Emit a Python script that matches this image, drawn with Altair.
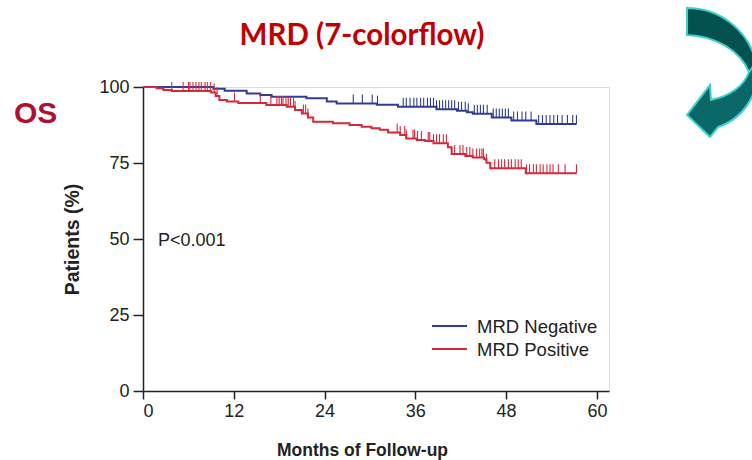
import altair as alt
import pandas as pd

# Kaplan-Meier overall survival by MRD status (7-colour flow)
groups = ["MRD Negative", "MRD Positive"]
colors = ["#2E3F93", "#D6283B"]

neg_times = [0, 9.3, 10.8, 13.7, 15.5, 17.0, 21.6, 24.3, 25.6, 30.9, 33.7, 38.8,
             41.5, 42.8, 43.6, 46.1, 48.7, 52.0, 57.3]
neg_surv = [100, 99.4, 98.8, 97.9, 97.4, 96.8, 96.3, 95.2, 94.6, 94.2, 93.5, 92.7,
            92.2, 91.7, 91.2, 90.0, 89.0, 87.8, 87.8]

pos_times = [0, 1.8, 2.7, 3.8, 9.0, 9.6, 10.1, 11.1, 12.6, 16.3, 19.0, 20.1, 21.0,
             21.8, 22.5, 25.1, 27.3, 28.9, 30.2, 31.3, 32.4, 34.0, 34.8, 36.2, 37.3,
             38.4, 40.3, 40.8, 42.6, 43.6, 45.1, 45.4, 45.9, 50.6, 57.3]
pos_surv = [100, 99.6, 99.0, 98.7, 98.2, 97.0, 95.7, 95.2, 94.7, 94.1, 93.5, 92.4, 91.3,
            90.0, 88.6, 88.1, 87.5, 86.9, 86.4, 85.9, 85.0, 84.2, 83.1, 82.6, 82.2,
            81.5, 80.2, 78.0, 77.3, 76.8, 76.2, 75.1, 73.3, 71.6, 71.6]

neg_censor = [27.8, 29.0, 30.3, 31.0, 34.4, 34.8, 35.3, 35.8, 36.2, 36.7, 37.1, 37.6,
              38.0, 38.4, 38.8, 39.2, 39.6, 40.0, 40.4, 40.8, 41.2, 41.7, 42.1, 42.6,
              43.0, 43.8, 44.2, 44.6, 45.0, 45.5, 46.3, 46.7, 47.1, 47.5, 47.9, 48.3,
              49.0, 49.5, 50.1, 50.6, 51.3, 52.3, 52.8, 53.3, 53.8, 54.3, 54.8, 55.4,
              56.1, 56.8, 57.3]
pos_censor = [3.8, 5.3, 6.0, 6.2, 6.6, 7.0, 7.4, 7.7, 8.2, 8.5, 8.9, 9.4, 9.8, 12.1,
              15.5, 16.9, 17.7, 18.0, 18.3, 18.5, 18.9, 19.2, 19.5, 19.9, 20.1, 21.2,
              21.5, 21.8, 33.6, 34.0, 34.6, 34.8, 35.7, 35.9, 36.3, 36.8, 37.7, 37.9,
              38.4, 38.8, 39.2, 39.7, 40.1, 41.2, 41.9, 42.3, 42.8, 43.2, 43.6, 44.1,
              44.5, 44.8, 45.0, 45.4, 46.5, 47.0, 47.4, 47.8, 48.3, 48.7, 49.2, 49.6,
              50.0, 50.7, 51.1, 51.6, 52.0, 52.5, 52.9, 53.4, 53.8, 54.2, 54.9, 55.8,
              57.3]

x_ticks = [0, 12, 24, 36, 48, 60]
y_ticks = [0, 25, 50, 75, 100]


def surv_at(t, times, surv):
    """Step-function value of the survival curve at time t."""
    val = surv[0]
    for ti, si in zip(times, surv):
        if ti <= t:
            val = si
    return val


curves = pd.concat([
    pd.DataFrame({"month": neg_times, "pct": neg_surv, "group": groups[0]}),
    pd.DataFrame({"month": pos_times, "pct": pos_surv, "group": groups[1]}),
])
censors = pd.concat([
    pd.DataFrame({"month": neg_censor,
                  "pct": [surv_at(t, neg_times, neg_surv) for t in neg_censor],
                  "group": groups[0]}),
    pd.DataFrame({"month": pos_censor,
                  "pct": [surv_at(t, pos_times, pos_surv) for t in pos_censor],
                  "group": groups[1]}),
])

AXIS_FONT = "Liberation Sans"
INK = "#222222"

x_scale = alt.Scale(domain=[0, 61.6], nice=False, zero=False)
y_scale = alt.Scale(domain=[0, 100], nice=False)
color_scale = alt.Scale(domain=groups, range=colors)

x_enc = alt.X("month:Q", scale=x_scale, axis=alt.Axis(
    values=x_ticks, title="Months of Follow-up", grid=False,
    labelFont=AXIS_FONT, labelFontSize=18, labelColor=INK, labelPadding=3,
    tickSize=8, tickColor=INK, tickWidth=1.5, domainColor=INK, domainWidth=1.5,
    titleFont=AXIS_FONT, titleFontSize=17.5, titleFontWeight="bold", titleColor=INK,
    titleX=219, titleY=64, titleBaseline="alphabetic", titleAlign="center"))
y_enc = alt.Y("pct:Q", scale=y_scale, axis=alt.Axis(
    values=y_ticks, title="Patients (%)", grid=False,
    labelFont=AXIS_FONT, labelFontSize=18, labelColor=INK, labelPadding=4,
    tickSize=10, tickColor=INK, tickWidth=1.5, domainColor=INK, domainWidth=1.5,
    titleFont=AXIS_FONT, titleFontSize=19.5, titleFontWeight="bold", titleColor=INK,
    titleAngle=270, titleX=-65, titleY=152, titleBaseline="alphabetic",
    titleAlign="center"))

lines = alt.Chart(curves).mark_line(interpolate="step-after", strokeWidth=2).encode(
    x=x_enc, y=y_enc,
    color=alt.Color("group:N", scale=color_scale, legend=None),
    detail="group:N",
)

ticks = alt.Chart(censors).mark_tick(
    orient="vertical", size=9, thickness=1.1, yOffset=-4.5, opacity=1
).encode(
    x="month:Q", y="pct:Q",
    color=alt.Color("group:N", scale=color_scale, legend=None),
)

# Legend drawn by hand: short coloured strokes with labels
legend_layers = []
for i, (name, col) in enumerate(zip(groups, colors)):
    row_y = 239 + i * 23
    legend_layers.append(
        alt.Chart(pd.DataFrame({"label": [name]})).mark_rule(
            color=col, strokeWidth=1.8
        ).encode(x=alt.value(289), x2=alt.value(324), y=alt.value(row_y))
    )
    legend_layers.append(
        alt.Chart(pd.DataFrame({"label": [name]})).mark_text(
            align="left", baseline="middle", font=AXIS_FONT, fontSize=18.5, color=INK
        ).encode(x=alt.value(334), y=alt.value(row_y + 1), text="label:N")
    )

p_text = alt.Chart(pd.DataFrame({"label": ["P<0.001"]})).mark_text(
    align="left", baseline="alphabetic", font=AXIS_FONT, fontSize=18, color=INK
).encode(x=alt.value(15), y=alt.value(159), text="label:N")

title_text = alt.Chart(pd.DataFrame({"label": ["MRD (7-colorflow)"]})).mark_text(
    align="center", baseline="alphabetic", font="Lato", fontSize=29.5,
    fontWeight="bold", color="#C00000"
).encode(x=alt.value(219), y=alt.value(-42), text="label:N")

os_text = alt.Chart(pd.DataFrame({"label": ["OS"]})).mark_text(
    align="left", baseline="alphabetic", font=AXIS_FONT, fontSize=30,
    fontWeight="bold", color="#B20E2E"
).encode(x=alt.value(-129), y=alt.value(36), text="label:N")

# Curved arrow ornament in the top-right corner (two tones, cyan rim)
ARROW_TOP = ("M-0.471,-0.914 C0,-0.914 0.4,-0.6 0.514,-0.143 "
             "L0.414,0 C0.286,-0.314 -0.071,-0.514 -0.471,-0.529 Z")
ARROW_BOTTOM = ("M0.514,-0.143 C0.6,0.257 0.357,0.657 -0.029,0.786 "
                "L-0.143,0.929 L-0.471,0.614 L-0.143,0.186 L-0.129,0.4 "
                "C0.143,0.343 0.343,0.2 0.414,0 Z")
arrow_layers = [
    alt.Chart(pd.DataFrame({"part": [part]})).mark_point(
        shape=shape, size=19600, filled=True, fill=fill, stroke="#3ECFCF",
        strokeWidth=2, opacity=1
    ).encode(x=alt.value(577), y=alt.value(-15))
    for part, shape, fill in [("bottom", ARROW_BOTTOM, "#0A6767"),
                              ("top", ARROW_TOP, "#03514F")]
]

chart = alt.layer(
    lines, ticks, p_text, title_text, os_text, *legend_layers, *arrow_layers
).properties(
    width=466, height=304,
    padding={"left": 143, "top": 87, "right": 143, "bottom": 69},
    autosize=alt.AutoSizeParams(type="none"),
).configure_view(stroke=None).configure(background="white")

chart.save("out.html", embed_options={"renderer": "svg", "actions": False})
